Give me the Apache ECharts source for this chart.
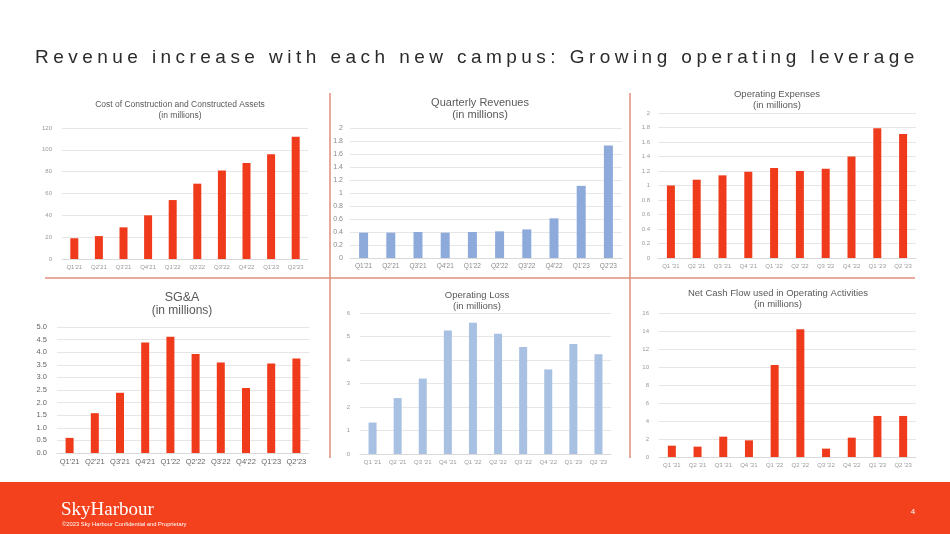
<!DOCTYPE html>
<html><head><meta charset="utf-8">
<script src="https://cdn.jsdelivr.net/npm/echarts/dist/echarts.min.js"></script>
<style>
html,body{margin:0;padding:0;background:#fff;}
#wrap{position:relative;width:950px;height:534px;overflow:hidden;}
#chart{position:absolute;left:0;top:0;width:950px;height:534px;}
#title{position:absolute;left:35px;top:47px;font:19px/19px 'Liberation Sans',Arial,sans-serif;letter-spacing:4.45px;color:#2b2b2b;white-space:nowrap;}
</style></head>
<body><div id="wrap"><div id="chart"></div><div id="title">Revenue increase with each new campus: Growing operating leverage</div></div>
<script>
// ---- data ----
const quartersA = ["Q1'21","Q2'21","Q3'21","Q4'21","Q1'22","Q2'22","Q3'22","Q4'22","Q1'23","Q2'23"];
const quartersB = ["Q1 '21","Q2 '21","Q3 '21","Q4 '21","Q1 '22","Q2 '22","Q3 '22","Q4 '22","Q1 '23","Q2 '23"];
const constructionCost = [19, 21, 29, 40, 54, 69, 81, 88, 96, 112];
const quarterlyRevenues = [0.39, 0.39, 0.40, 0.39, 0.40, 0.41, 0.44, 0.61, 1.11, 1.73];
const operatingExpenses = [1.00, 1.08, 1.14, 1.19, 1.24, 1.20, 1.23, 1.40, 1.79, 1.71];
const sgaExpenses = [0.6, 1.58, 2.39, 4.38, 4.61, 3.93, 3.59, 2.58, 3.55, 3.75];
const operatingLoss = [1.34, 2.38, 3.21, 5.26, 5.58, 5.12, 4.55, 3.60, 4.68, 4.25];
const netCashFlow = [1.26, 1.15, 2.26, 1.85, 10.22, 14.19, 0.93, 2.15, 4.56, 4.56];
const chartTitles = [
  ["Cost of Construction and Constructed Assets", "(in millions)"],
  ["Quarterly Revenues", "(in millions)"],
  ["Operating Expenses", "(in millions)"],
  ["SG&A", "(in millions)"],
  ["Operating Loss", "(in millions)"],
  ["Net Cash Flow used in Operating Activities", "(in millions)"]
];
const footerBrand = "SkyHarbour";
const footerNote = "©2023 Sky Harbour Confidential and Proprietary";
const pageNumber = "4";

// ---- styling / layout ----
const RED = '#EF3B1C', BLUE1 = '#8EAADB', BLUE2 = '#A8C0E1';
const FONT = "'Liberation Sans', Arial, sans-serif";
const panels = [
  {grid:{left:62,top:128,width:246,height:131}, cats:quartersA, data:constructionCost, color:RED, max:120, interval:20, bw:8, lab:6, labColor:'#9a9a9a', yLab:6, ym:10, title:{x:180,y1:105,y2:116,f1:8.5,f2:8.5}},
  {grid:{left:350,top:128,width:272,height:130}, cats:quartersA, data:quarterlyRevenues, color:BLUE1, max:2, interval:0.2, bw:9, lab:6.5, labColor:'#8a8a8a', yLab:7, ym:7, title:{x:480,y1:103,y2:115,f1:11,f2:11}},
  {grid:{left:658,top:113,width:258,height:145}, cats:quartersB, data:operatingExpenses, color:RED, max:2, interval:0.2, bw:8, lab:6, labColor:'#9a9a9a', yLab:6, ym:8, title:{x:777,y1:94,y2:105,f1:9.5,f2:9.5}},
  {grid:{left:57,top:327,width:252,height:126}, cats:quartersA, data:sgaExpenses, color:RED, max:5, interval:0.5, bw:8, lab:7.5, labColor:'#666', yLab:7.5, ym:10, fmt:v=>v.toFixed(1), title:{x:182,y1:298,y2:311,f1:12.5,f2:12}},
  {grid:{left:360,top:313,width:251,height:141}, cats:quartersB, data:operatingLoss, color:BLUE2, max:6, interval:1, bw:8, lab:6, labColor:'#9a9a9a', yLab:6, ym:10, title:{x:477,y1:295,y2:306,f1:9.5,f2:9.5}},
  {grid:{left:659,top:313,width:257,height:144}, cats:quartersB, data:netCashFlow, color:RED, max:16, interval:2, bw:8, lab:6, labColor:'#9a9a9a', yLab:6, ym:10, title:{x:778,y1:293,y2:304,f1:9.5,f2:9.5}}
];

const grid = [], xAxis = [], yAxis = [], series = [], graphic = [];
panels.forEach((p, i) => {
  grid.push(Object.assign({containLabel:false}, p.grid));
  xAxis.push({type:'category', gridIndex:i, data:p.cats,
    axisLine:{lineStyle:{color:'#D9D9D9'}}, axisTick:{show:false},
    axisLabel:{fontSize:p.lab, color:p.labColor, fontFamily:FONT, margin:5, interval:0}});
  yAxis.push({type:'value', gridIndex:i, min:0, max:p.max, interval:p.interval,
    axisLine:{show:false}, axisTick:{show:false},
    splitLine:{lineStyle:{color:'#E6E6E6', width:1}},
    axisLabel:{fontSize:p.yLab, color:p.labColor, fontFamily:FONT, margin:p.ym, formatter:p.fmt}});
  series.push({type:'bar', xAxisIndex:i, yAxisIndex:i, data:p.data, barWidth:p.bw,
    itemStyle:{color:p.color}, silent:true, animation:false});
  const t = chartTitles[i];
  graphic.push({type:'text', x:p.title.x, y:p.title.y1, style:{text:t[0], fill:'#595959', font:`${p.title.f1}px ${FONT}`, textAlign:'center', textVerticalAlign:'middle'}});
  graphic.push({type:'text', x:p.title.x, y:p.title.y2, style:{text:t[1], fill:'#595959', font:`${p.title.f2}px ${FONT}`, textAlign:'center', textVerticalAlign:'middle'}});
});

// dividers
graphic.push({type:'line', shape:{x1:45,y1:278,x2:915,y2:278}, style:{stroke:'#DC8E7B', lineWidth:1.5}});
graphic.push({type:'line', shape:{x1:330,y1:93,x2:330,y2:458}, style:{stroke:'#DC8E7B', lineWidth:1.5}});
graphic.push({type:'line', shape:{x1:630,y1:93,x2:630,y2:458}, style:{stroke:'#DC8E7B', lineWidth:1.5}});
// footer
graphic.push({type:'rect', shape:{x:0,y:482,width:950,height:52}, style:{fill:'#F2411C'}});
graphic.push({type:'text', x:61, y:510, style:{text:footerBrand, fill:'#fff', font:"19px 'Liberation Serif', 'DejaVu Serif', serif", textAlign:'left', textVerticalAlign:'middle'}});
graphic.push({type:'text', x:62, y:524, style:{text:footerNote, fill:'#fff', font:`5.8px ${FONT}`, textAlign:'left', textVerticalAlign:'middle'}});
graphic.push({type:'text', x:913, y:512, style:{text:pageNumber, fill:'#fff', font:`8px ${FONT}`, textAlign:'center', textVerticalAlign:'middle'}});

const chart = echarts.init(document.getElementById('chart'), null, {renderer:'canvas'});
chart.setOption({animation:false, backgroundColor:'#fff', grid, xAxis, yAxis, series, graphic});
</script>
</body></html>
